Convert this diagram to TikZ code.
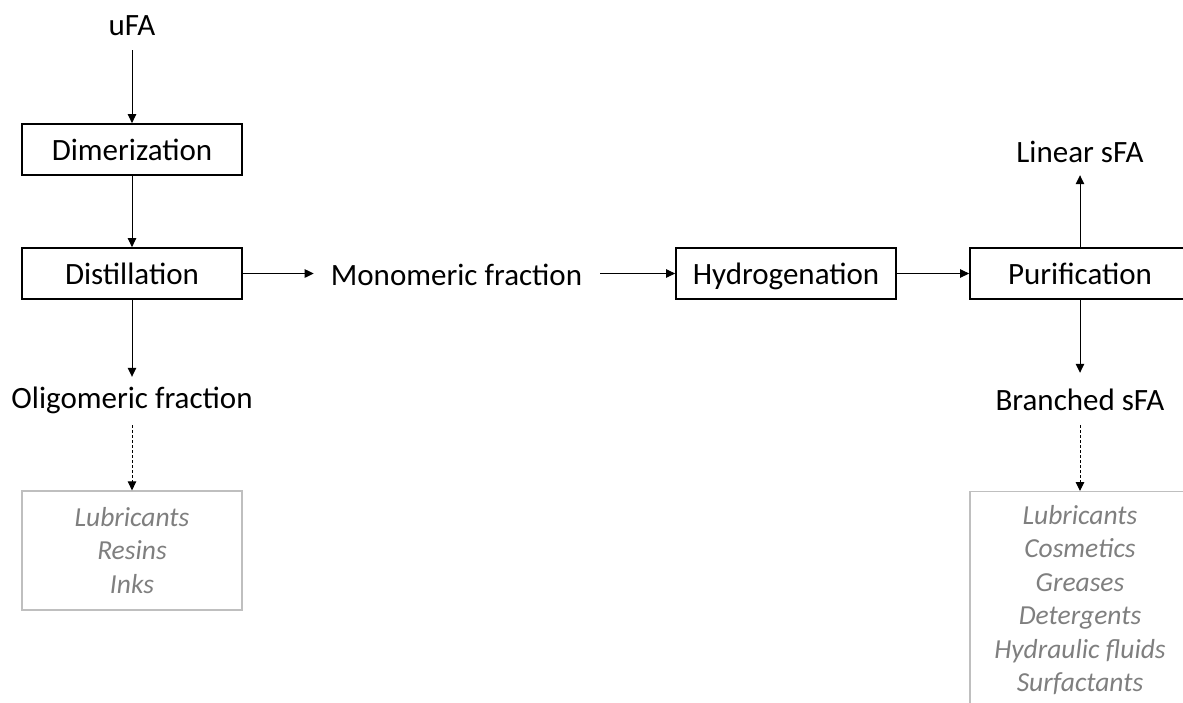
\documentclass[tikz,border=0pt]{standalone}
\usepackage{fontspec}
\setmainfont{Carlito}
\usetikzlibrary{arrows.meta}
\definecolor{textgray}{HTML}{7F7F7F}
\definecolor{boxgray}{HTML}{BFBFBF}
\begin{document}
\begin{tikzpicture}[x=1pt,y=-1pt,
  stepbox/.style={draw=black, line width=1.8pt, minimum width=220pt, minimum height=51pt,
    inner sep=0pt, text height=26pt, text depth=4pt, font=\fontsize{31}{37}\selectfont},
  flowtext/.style={inner sep=0pt, text height=22pt, text depth=7pt, anchor=base,
    font=\fontsize{31}{37}\selectfont},
  usebox/.style={draw=boxgray, line width=1.3pt, minimum width=220pt, inner sep=0pt,
    align=center, text=textgray, font=\fontsize{27.5}{33.5}\selectfont\itshape},
  flow/.style={-{Triangle[length=9pt,width=8.5pt]}, line width=1pt},
  feed/.style={flow, dash pattern=on 3pt off 2pt}
]
\useasboundingbox (0,0) rectangle (1183,702);
\clip (0,0) rectangle (1183,702);

% left column
\node[flowtext] (ufa) at (132,35) {uFA};
\node[stepbox] (dim) at (132,149.5) {Dimerization};
\node[stepbox] (dist) at (132,273.5) {Distillation};
\node[flowtext] (oligo) at (132,408) {Oligomeric fraction};
\node[usebox, minimum height=119pt] (uses1) at (132,550.5)
  {Lubricants\\Resins\\Inks};

% middle row
\node[flowtext] (mono) at (456.5,285) {Monomeric fraction};
\node[stepbox] (hyd) at (786,273.5) {Hydrogenation};

% right column
\node[stepbox] (pur) at (1080,273.5) {Purification};
\node[flowtext] (lin) at (1080,162) {Linear sFA};
\node[flowtext] (bra) at (1080,410) {Branched sFA};
\node[usebox, minimum height=217pt, anchor=north] (uses2) at (1080,491)
  {Lubricants\\Cosmetics\\Greases\\Detergents\\Hydraulic fluids\\Surfactants};

% connectors
\draw[flow, shorten <=8pt] (ufa.south) -- (dim.north);
\draw[flow] (dim.south) -- (dist.north);
\draw[flow, shorten >=9pt] (dist.south) -- (oligo.north);
\draw[feed, shorten <=10pt] (oligo.south) -- (uses1.north);
\draw[flow, shorten >=17pt] (dist.east) -- (dist.east -| mono.west);
\draw[flow, shorten <=18pt] (hyd.west -| mono.east) -- (hyd.west);
\draw[flow] (hyd.east) -- (pur.west);
\draw[flow, shorten >=6pt] (pur.north) -- (lin.south);
\draw[flow, shorten >=15pt] (pur.south) -- (bra.north);
\draw[feed, shorten <=8pt] (bra.south) -- (uses2.north);
\end{tikzpicture}
\end{document}
